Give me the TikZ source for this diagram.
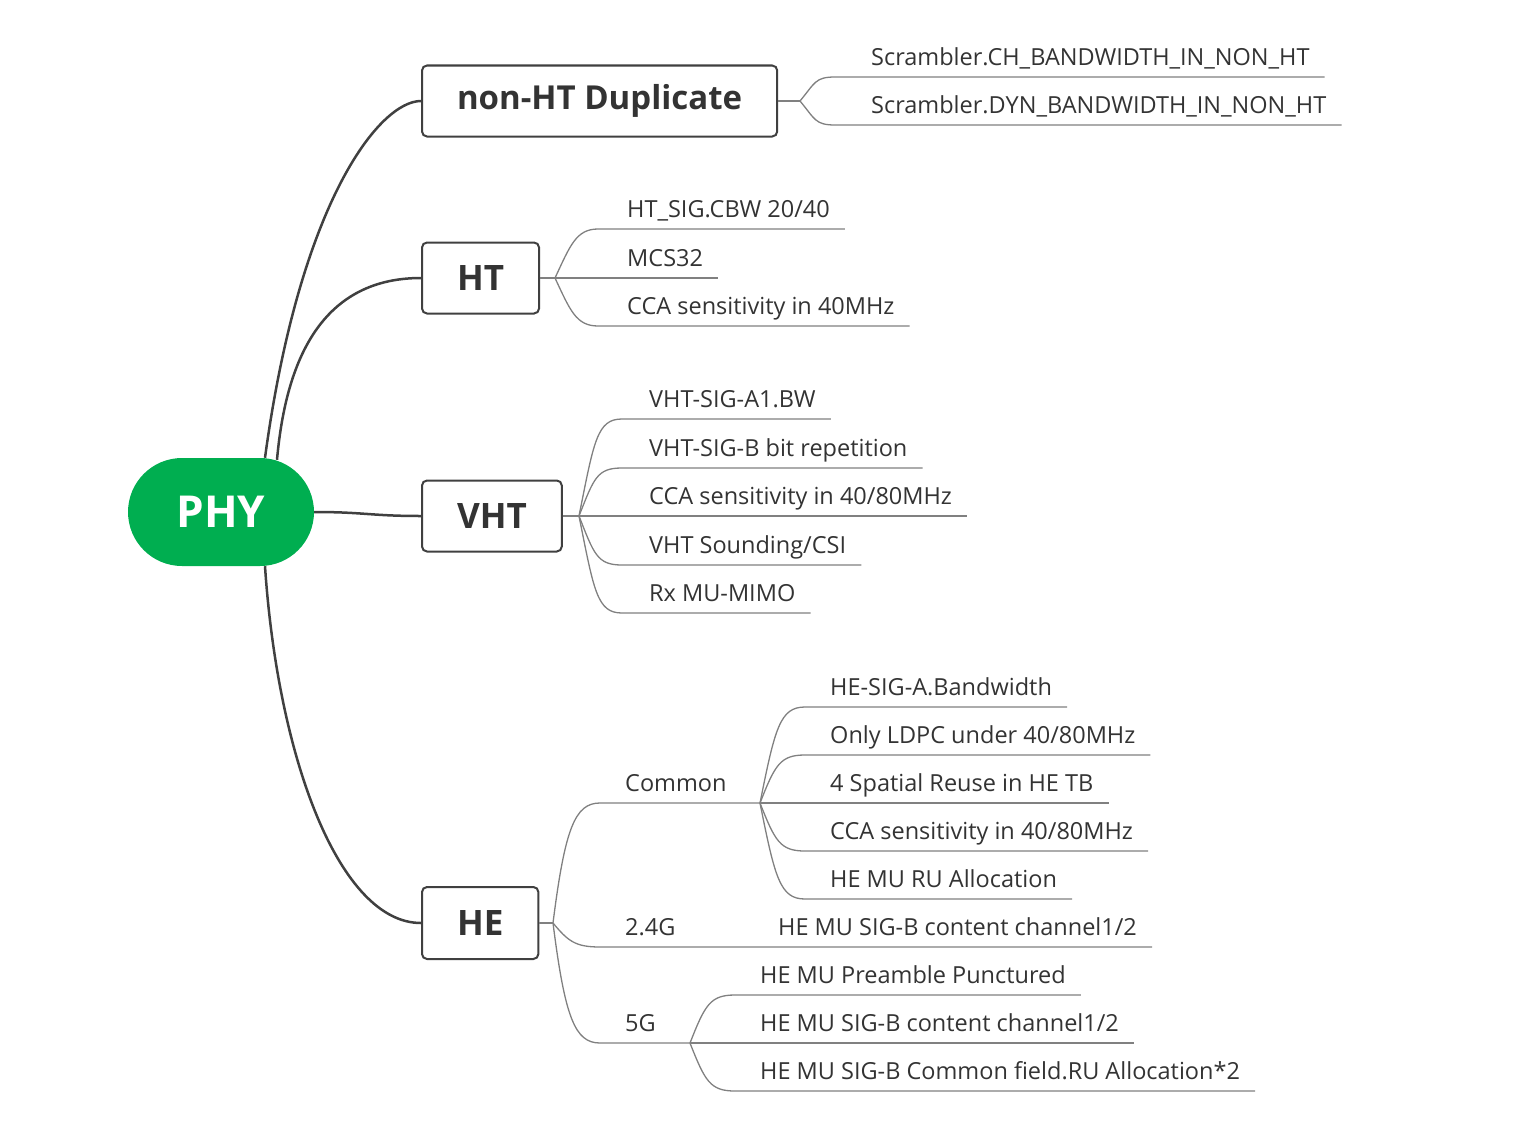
\documentclass[tikz,border=0pt]{standalone}
\usepackage{fontspec}
\setmainfont{Open Sans}
\definecolor{phygreen}{HTML}{00AE50}
\definecolor{ink}{HTML}{333333}
\definecolor{trunk}{HTML}{404040}
\definecolor{twiggray}{HTML}{808080}
\tikzset{
  topic/.style={draw=trunk, line width=2pt, rounded corners=5pt, fill=white, text=ink,
    font=\bfseries\fontsize{35}{35}\selectfont, inner xsep=35pt, minimum height=71pt, anchor=west},
  leaf/.style={anchor=south west, inner xsep=0pt, inner ysep=11pt, text depth=0pt,
    font=\fontsize{23.5}{23.5}\selectfont, text=ink},
  trunkline/.style={draw=trunk, line width=2.5pt},
  twig/.style={draw=twiggray, line width=1.3pt},
}
\begin{document}
\begin{tikzpicture}[x=1pt,y=-1pt]
\useasboundingbox (0,0) rectangle (1522,1124);
% root and first level
\node[fill=phygreen, text=white, font=\bfseries\fontsize{44}{44}\selectfont, rounded corners=54pt,
  minimum width=186pt, minimum height=108pt, inner sep=0pt] (phy) at (221,512) {PHY};
\node[topic, font=\bfseries\fontsize{33}{33}\selectfont] (nonht) at (421,101) {non-HT Duplicate};
\node[topic] (ht) at (421,278) {HT};
\node[topic] (vht) at (421,516) {VHT};
\node[topic, minimum height=72pt] (he) at (421,923) {HE};
\draw[trunkline] ([xshift=44pt]phy.north) .. controls +(35,-258) and +(-41,0) .. (nonht.west);
\draw[trunkline] ([xshift=56pt,yshift=-2pt]phy.north) .. controls +(8,-90) and +(-105,0) .. (ht.west);
\draw[trunkline] (phy.east) .. controls +(50,0) and +(-50,0) .. (vht.west);
\draw[trunkline] ([xshift=44pt]phy.south) .. controls +(13,194) and +(-81,0) .. (he.west);
% non-HT Duplicate
\coordinate (nonht hub) at (800,101);
\node[leaf] (chbw) at (871,77) {Scrambler.CH\_BANDWIDTH\_IN\_NON\_HT};
\node[leaf] (dynbw) at (871,125) {Scrambler.DYN\_BANDWIDTH\_IN\_NON\_HT};
\draw[twig] (nonht.east) -- (nonht hub);
\draw[twig] (nonht hub) .. controls +(15,-18) and +(-20,0) .. (835,77) -- ([xshift=15pt]chbw.south east);
\draw[twig] (nonht hub) .. controls +(15,18) and +(-20,0) .. (835,125) -- ([xshift=15pt]dynbw.south east);
% HT
\coordinate (ht hub) at (555,278);
\node[leaf] (htsig) at (627,229) {HT\_SIG.CBW 20/40};
\node[leaf] (mcs) at (627,278) {MCS32};
\node[leaf] (htcca) at (627,326) {CCA sensitivity in 40MHz};
\draw[twig] (ht.east) -- (ht hub);
\draw[twig] (ht hub) .. controls +(15,-32) and +(-22,0) .. (598,229) -- ([xshift=15pt]htsig.south east);
\draw[twig] (ht hub) -- ([xshift=15pt]mcs.south east);
\draw[twig] (ht hub) .. controls +(15,32) and +(-22,0) .. (598,326) -- ([xshift=15pt]htcca.south east);
% VHT
\coordinate (vht hub) at (579,516);
\node[leaf] (vhtbw) at (649,419) {VHT-SIG-A1.BW};
\node[leaf] (vhtrep) at (649,468) {VHT-SIG-B bit repetition};
\node[leaf] (vhtcca) at (649,516) {CCA sensitivity in 40/80MHz};
\node[leaf] (vhtsnd) at (649,565) {VHT Sounding/CSI};
\node[leaf] (vhtmu) at (649,613) {Rx MU-MIMO};
\draw[twig] (vht.east) -- (vht hub);
\draw[twig] (vht hub) .. controls +(15,-75) and +(-25,0) .. (622,419) -- ([xshift=15pt]vhtbw.south east);
\draw[twig] (vht hub) .. controls +(15,-38) and +(-25,0) .. (622,468) -- ([xshift=15pt]vhtrep.south east);
\draw[twig] (vht hub) -- ([xshift=15pt]vhtcca.south east);
\draw[twig] (vht hub) .. controls +(15,38) and +(-25,0) .. (622,565) -- ([xshift=15pt]vhtsnd.south east);
\draw[twig] (vht hub) .. controls +(15,75) and +(-25,0) .. (622,613) -- ([xshift=15pt]vhtmu.south east);
% HE
\coordinate (he hub) at (553,923);
\coordinate (common hub) at (760,803);
\coordinate (fiveg hub) at (690,1043);
\node[leaf] (common) at (625,803) {Common};
\node[leaf] (twofour) at (625,947) {2.4G};
\node[leaf] (fiveg) at (625,1043) {5G};
\node[leaf] (g24sigb) at (778,947) {HE MU SIG-B content channel1/2};
\draw[twig] (he.east) -- (he hub);
\draw[twig] (he hub) .. controls +(12,-95) and +(-25,0) .. (600,803) -- (common hub);
\draw[twig] (he hub) .. controls +(15,18) and +(-25,0) .. (600,947) -- ([xshift=15pt]g24sigb.south east);
\draw[twig] (he hub) .. controls +(12,95) and +(-25,0) .. (600,1043) -- (fiveg hub);
% HE common
\node[leaf] (hebw) at (830,707) {HE-SIG-A.Bandwidth};
\node[leaf] (heldpc) at (830,755) {Only LDPC under 40/80MHz};
\node[leaf] (hesr) at (830,803) {4 Spatial Reuse in HE TB};
\node[leaf] (hecca) at (830,851) {CCA sensitivity in 40/80MHz};
\node[leaf] (heru) at (830,899) {HE MU RU Allocation};
\draw[twig] (common hub) .. controls +(15,-75) and +(-25,0) .. (805,707) -- ([xshift=15pt]hebw.south east);
\draw[twig] (common hub) .. controls +(15,-38) and +(-25,0) .. (805,755) -- ([xshift=15pt]heldpc.south east);
\draw[twig] (common hub) -- ([xshift=15pt]hesr.south east);
\draw[twig] (common hub) .. controls +(15,38) and +(-25,0) .. (805,851) -- ([xshift=15pt]hecca.south east);
\draw[twig] (common hub) .. controls +(15,75) and +(-25,0) .. (805,899) -- ([xshift=15pt]heru.south east);
% HE 5G
\node[leaf] (punct) at (760,995) {HE MU Preamble Punctured};
\node[leaf] (g5sigb) at (760,1043) {HE MU SIG-B content channel1/2};
\node[leaf] (g5ru) at (760,1091) {HE MU SIG-B Common field.RU Allocation*2};
\draw[twig] (fiveg hub) .. controls +(15,-38) and +(-25,0) .. (735,995) -- ([xshift=15pt]punct.south east);
\draw[twig] (fiveg hub) -- ([xshift=15pt]g5sigb.south east);
\draw[twig] (fiveg hub) .. controls +(15,38) and +(-25,0) .. (735,1091) -- ([xshift=15pt]g5ru.south east);
\end{tikzpicture}
\end{document}
